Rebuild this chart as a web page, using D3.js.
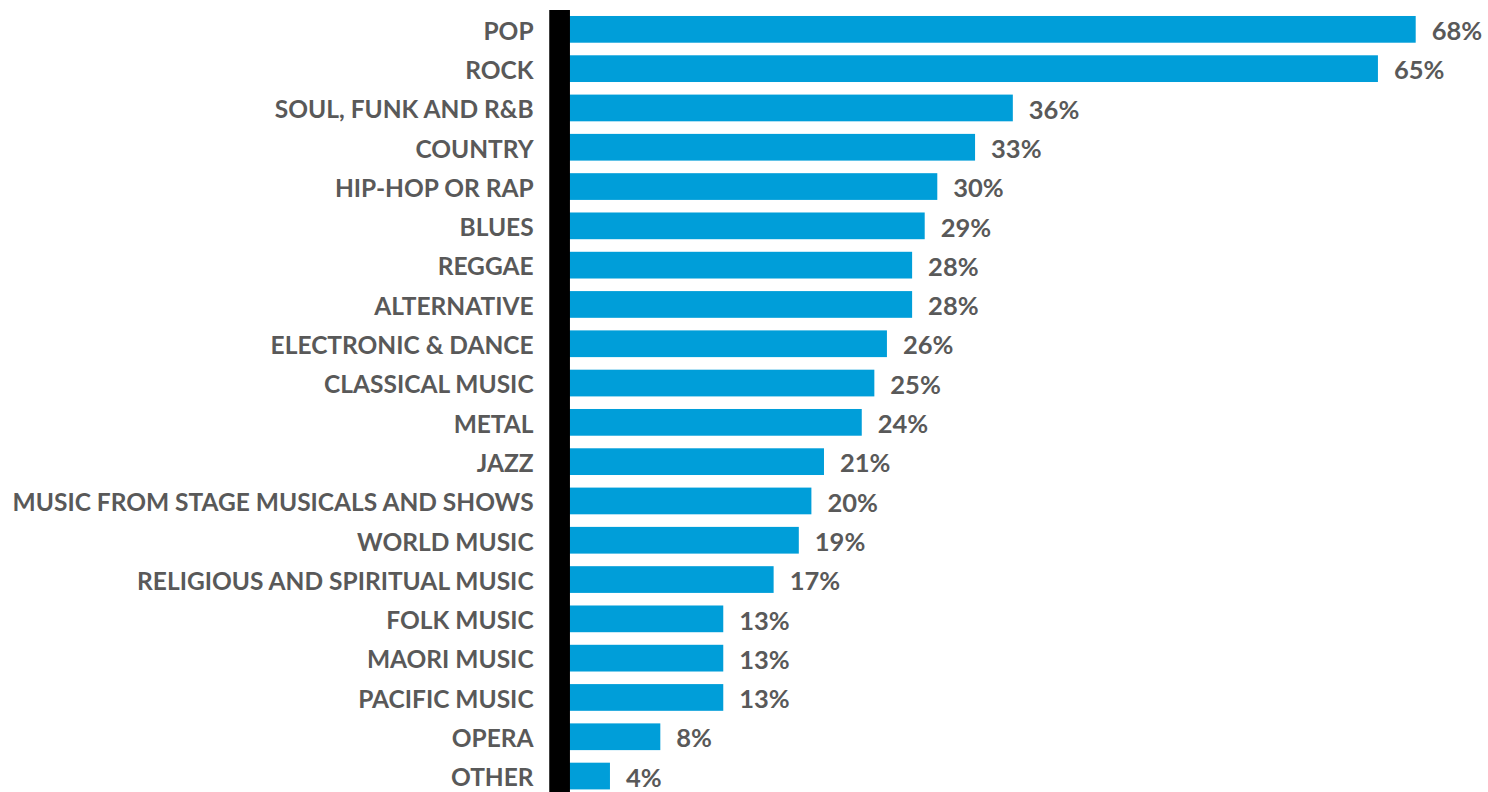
<!DOCTYPE html>
<html>
<head>
<meta charset="utf-8">
<script src="https://cdn.jsdelivr.net/npm/d3@7"></script>
<style>
  html, body { margin: 0; padding: 0; background: #fff; }
  svg { display: block; }
  text { font-family: "Lato", "Open Sans", sans-serif; font-weight: 700; fill: #595959; }
</style>
</head>
<body>
<svg id="chart" width="1488" height="792"></svg>
<script>
// Music genres listened to (share of respondents)
const genres = [
  "POP", "ROCK", "SOUL, FUNK AND R&B", "COUNTRY", "HIP-HOP OR RAP", "BLUES",
  "REGGAE", "ALTERNATIVE", "ELECTRONIC & DANCE", "CLASSICAL MUSIC", "METAL",
  "JAZZ", "MUSIC FROM STAGE MUSICALS AND SHOWS", "WORLD MUSIC",
  "RELIGIOUS AND SPIRITUAL MUSIC", "FOLK MUSIC", "MAORI MUSIC", "PACIFIC MUSIC",
  "OPERA", "OTHER"
];
const shares = [68, 65, 36, 33, 30, 29, 28, 28, 26, 25, 24, 21, 20, 19, 17, 13, 13, 13, 8, 4];

const data = genres.map((g, i) => ({ genre: g, value: shares[i] }));

const svg = d3.select("#chart");

const x = d3.scaleLinear().domain([0, 68]).range([559.6, 1415.7]);
const y = d3.scaleBand()
  .domain(genres)
  .range([9.7, 795.7])
  .paddingInner(0.32)
  .paddingOuter(0.16);

// bars
svg.append("g").selectAll("rect")
  .data(data)
  .join("rect")
  .attr("x", x(0))
  .attr("y", d => y(d.genre))
  .attr("width", d => x(d.value) - x(0))
  .attr("height", y.bandwidth())
  .attr("fill", "#009ed9");

// category axis (thick black baseline)
const axis = d3.axisLeft(y).tickSize(0).tickPadding(26);
const gAxis = svg.append("g")
  .attr("transform", `translate(${x(0)},0)`)
  .call(axis);
gAxis.select(".domain").remove();
gAxis.selectAll("text")
  .attr("font-size", 24.5)
  .attr("dy", "0.42em")
  .style("font-family", "Lato, 'Open Sans', sans-serif")
  .style("font-weight", 700)
  .attr("fill", "#595959");

svg.append("line")
  .attr("x1", x(0)).attr("x2", x(0))
  .attr("y1", 10).attr("y2", 792)
  .attr("stroke", "#000")
  .attr("stroke-width", 20.7);

// value labels
svg.append("g").selectAll("text")
  .data(data)
  .join("text")
  .attr("x", d => x(d.value) + 16)
  .attr("y", d => y(d.genre) + y.bandwidth() / 2)
  .attr("dy", "0.42em")
  .attr("font-size", 25.5)
  .text(d => d.value + "%");
</script>
</body>
</html>
